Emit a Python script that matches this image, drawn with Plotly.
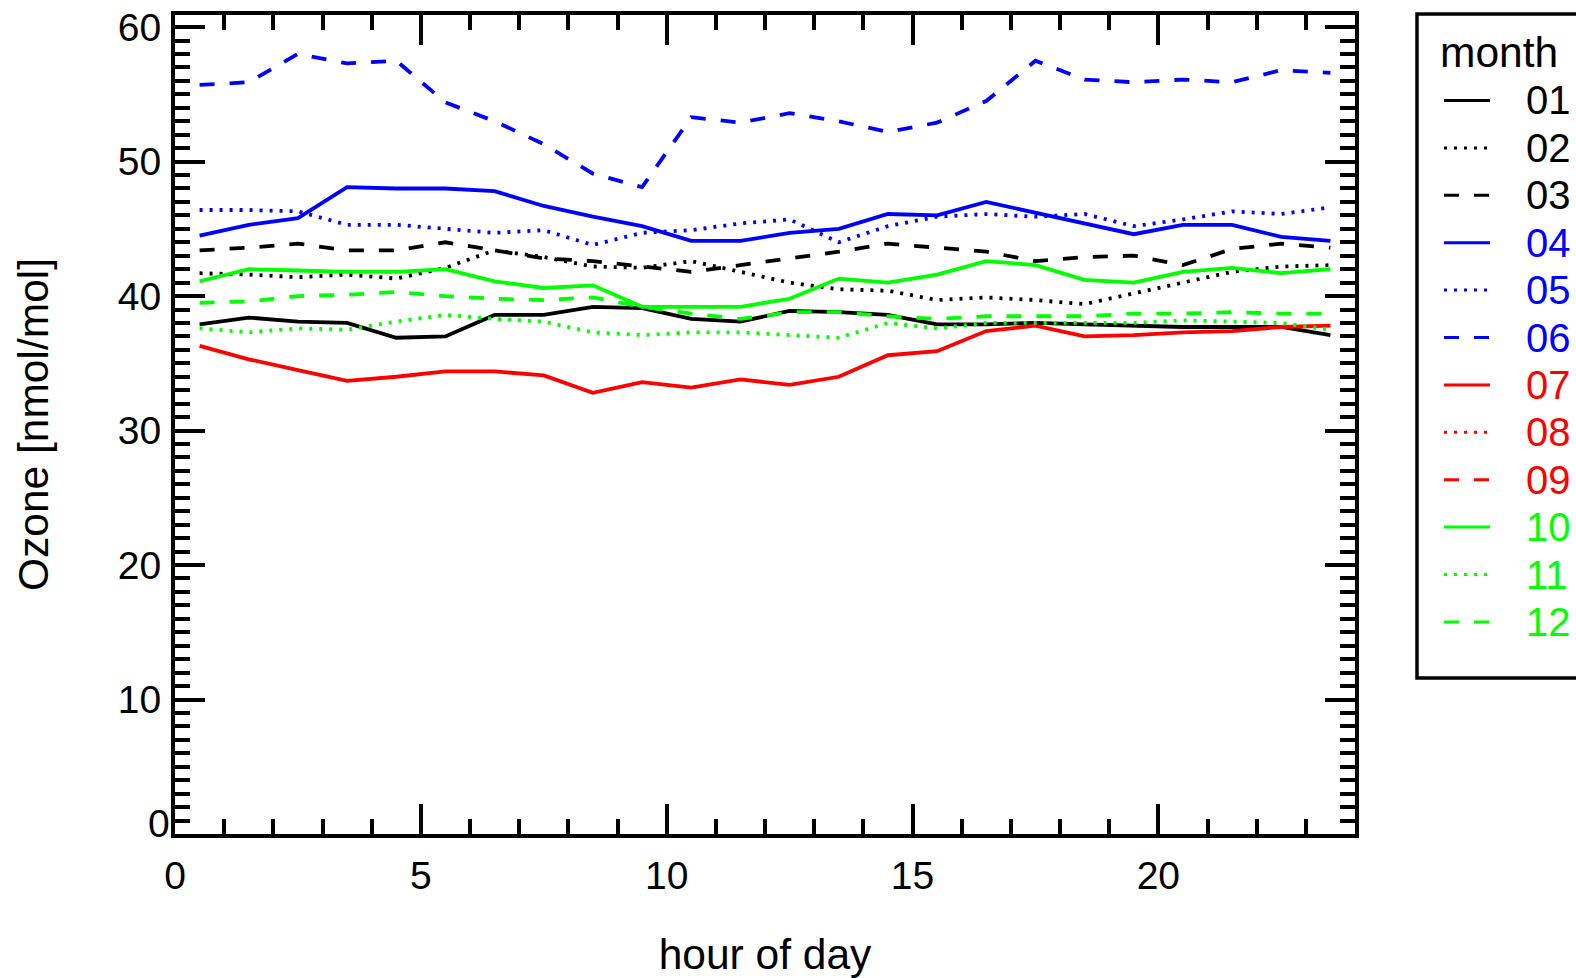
import plotly.graph_objects as go

hours = [h + 0.5 for h in range(24)]

months = ["01", "02", "03", "04", "05", "06", "07", "08", "09", "10", "11", "12"]
colors = ["#000000", "#000000", "#000000", "#0000FF", "#0000FF", "#0000FF",
          "#FF0000", "#FF0000", "#FF0000", "#00FF00", "#00FF00", "#00FF00"]
styles = ["solid", "dot", "dash"] * 4

m01 = [37.9, 38.4, 38.1, 38.0, 36.9, 37.0, 38.6, 38.6, 39.2, 39.1, 38.3, 38.1,
       38.9, 38.8, 38.6, 37.9, 37.9, 38.0, 37.9, 37.8, 37.7, 37.7, 37.7, 37.1]
m02 = [41.7, 41.6, 41.4, 41.6, 41.3, 42.1, 43.4, 42.9, 42.2, 42.1, 42.6, 41.8,
       41.0, 40.5, 40.4, 39.7, 39.9, 39.7, 39.4, 40.2, 41.0, 41.8, 42.2, 42.3]
m03 = [43.4, 43.6, 43.9, 43.4, 43.4, 44.0, 43.4, 42.8, 42.6, 42.2, 41.8, 42.3,
       42.8, 43.3, 43.9, 43.6, 43.3, 42.6, 42.9, 43.0, 42.3, 43.5, 43.9, 43.6]
m04 = [44.5, 45.3, 45.8, 48.1, 48.0, 48.0, 47.8, 46.7, 45.9, 45.2, 44.1, 44.1,
       44.7, 45.0, 46.1, 46.0, 47.0, 46.2, 45.4, 44.6, 45.3, 45.3, 44.4, 44.1]
m05 = [46.4, 46.4, 46.3, 45.3, 45.3, 45.0, 44.7, 44.9, 43.8, 44.7, 44.9, 45.4,
       45.7, 44.0, 45.2, 45.9, 46.1, 45.9, 46.1, 45.2, 45.7, 46.3, 46.1, 46.6]
m06 = [55.7, 55.9, 58.0, 57.3, 57.5, 54.4, 53.0, 51.3, 49.1, 48.1, 53.3, 52.9,
       53.6, 53.0, 52.2, 52.9, 54.5, 57.5, 56.1, 55.9, 56.1, 55.9, 56.8, 56.6]
m07 = [36.3, 35.3, 34.5, 33.7, 34.0, 34.4, 34.4, 34.1, 32.8, 33.6, 33.2, 33.8,
       33.4, 34.0, 35.6, 35.9, 37.4, 37.8, 37.0, 37.1, 37.3, 37.4, 37.7, 37.8]
m08 = []
m09 = []
m10 = [41.1, 42.0, 41.9, 41.8, 41.8, 42.0, 41.1, 40.6, 40.8, 39.2, 39.2, 39.2,
       39.8, 41.3, 41.0, 41.6, 42.6, 42.3, 41.2, 41.0, 41.8, 42.1, 41.7, 42.0]
m11 = [37.6, 37.3, 37.6, 37.5, 38.1, 38.6, 38.3, 38.1, 37.3, 37.1, 37.3, 37.3,
       37.1, 36.9, 38.0, 37.6, 38.0, 38.0, 38.0, 38.0, 38.2, 38.1, 38.0, 37.5]
m12 = [39.5, 39.6, 40.0, 40.1, 40.3, 40.0, 39.8, 39.7, 39.9, 39.2, 38.7, 38.3,
       38.8, 38.8, 38.5, 38.3, 38.5, 38.5, 38.5, 38.7, 38.7, 38.8, 38.7, 38.7]
series = [m01, m02, m03, m04, m05, m06, m07, m08, m09, m10, m11, m12]

x_ticks = [0, 5, 10, 15, 20]
y_ticks = [0, 10, 20, 30, 40, 50, 60]

dash_map = {"solid": "solid", "dot": "3px,7px", "dash": "15px,15px"}

W, H = 1576, 978
L, R, T, B = 175, 1355, 15, 834

fig = go.Figure()
for m, c, s, vals in zip(months, colors, styles, series):
    fig.add_trace(go.Scatter(
        x=hours[:len(vals)], y=vals, mode="lines", name=m,
        line=dict(color=c, width=3.8, dash=dash_map[s]), showlegend=False))

FONT = "Liberation Sans, Arial, sans-serif"

def px(xp):
    return (xp - L) / (R - L)

def py(yp):
    return (B - yp) / (B - T)

shapes = []
annotations = []
# legend box
shapes.append(dict(type="rect", xref="paper", yref="paper",
                   x0=px(1417), x1=px(1620), y0=py(678), y1=py(14),
                   line=dict(color="black", width=3.5), fillcolor="rgba(0,0,0,0)"))
annotations.append(dict(text="month", xref="paper", yref="paper", x=px(1438), y=py(53),
                        xanchor="left", yanchor="middle", showarrow=False,
                        font=dict(family=FONT, size=42.5, color="black")))
for i, (m, c, s) in enumerate(zip(months, colors, styles)):
    yy = 100.5 + i * 47.4
    shapes.append(dict(type="line", xref="paper", yref="paper",
                       x0=px(1444), x1=px(1490), y0=py(yy), y1=py(yy),
                       line=dict(color=c, width=3, dash=dash_map[s])))
    annotations.append(dict(text=m, xref="paper", yref="paper", x=px(1524), y=py(yy),
                            xanchor="left", yanchor="middle", showarrow=False,
                            font=dict(family=FONT, size=40, color=c)))

# the lowest y label sits a little above its tick in the original
y_ticktext = ["" if v == 0 else str(v) for v in y_ticks]
annotations.append(dict(text=str(y_ticks[0]), xref="paper", yref="y", x=0, y=y_ticks[0],
                        xanchor="right", yanchor="middle", xshift=-3, yshift=11, showarrow=False,
                        font=dict(family=FONT, size=39, color="black")))

axis_common = dict(
    showline=True, linecolor="black", linewidth=4, mirror="allticks",
    ticks="inside", ticklen=30, tickwidth=3.5, tickcolor="black",
    showgrid=False, zeroline=False, automargin=False,
    tickfont=dict(family=FONT, size=39, color="black"),
    minor=dict(dtick=1, ticks="inside", ticklen=15, tickwidth=3.5, tickcolor="black", showgrid=False),
)

fig.update_layout(
    width=W, height=H,
    margin=dict(l=L, r=W - R, t=T, b=H - B, pad=0),
    paper_bgcolor="white", plot_bgcolor="white",
    xaxis=dict(range=[0, 24], tickvals=x_ticks, ticktext=[str(v) for v in x_ticks],
               title=dict(text="hour of day", font=dict(family=FONT, size=42.5, color="black"), standoff=45),
               ticklabelstandoff=4, **axis_common),
    yaxis=dict(range=[0, 60.9], tickvals=y_ticks, ticktext=y_ticktext,
               title=dict(text="Ozone [nmol/mol]", font=dict(family=FONT, size=42.5, color="black"), standoff=57),
               ticklabelstandoff=2, **axis_common),
    shapes=shapes, annotations=annotations,
    showlegend=False,
)

fig.write_html("out.html", config={"displayModeBar": False})

# remove the browser's default page margin so the figure sits at the window origin
with open("out.html", "r", encoding="utf-8") as f:
    html = f.read()
html = html.replace("<body>", "<body style=\"margin:0;overflow:hidden\">", 1)
with open("out.html", "w", encoding="utf-8") as f:
    f.write(html)
